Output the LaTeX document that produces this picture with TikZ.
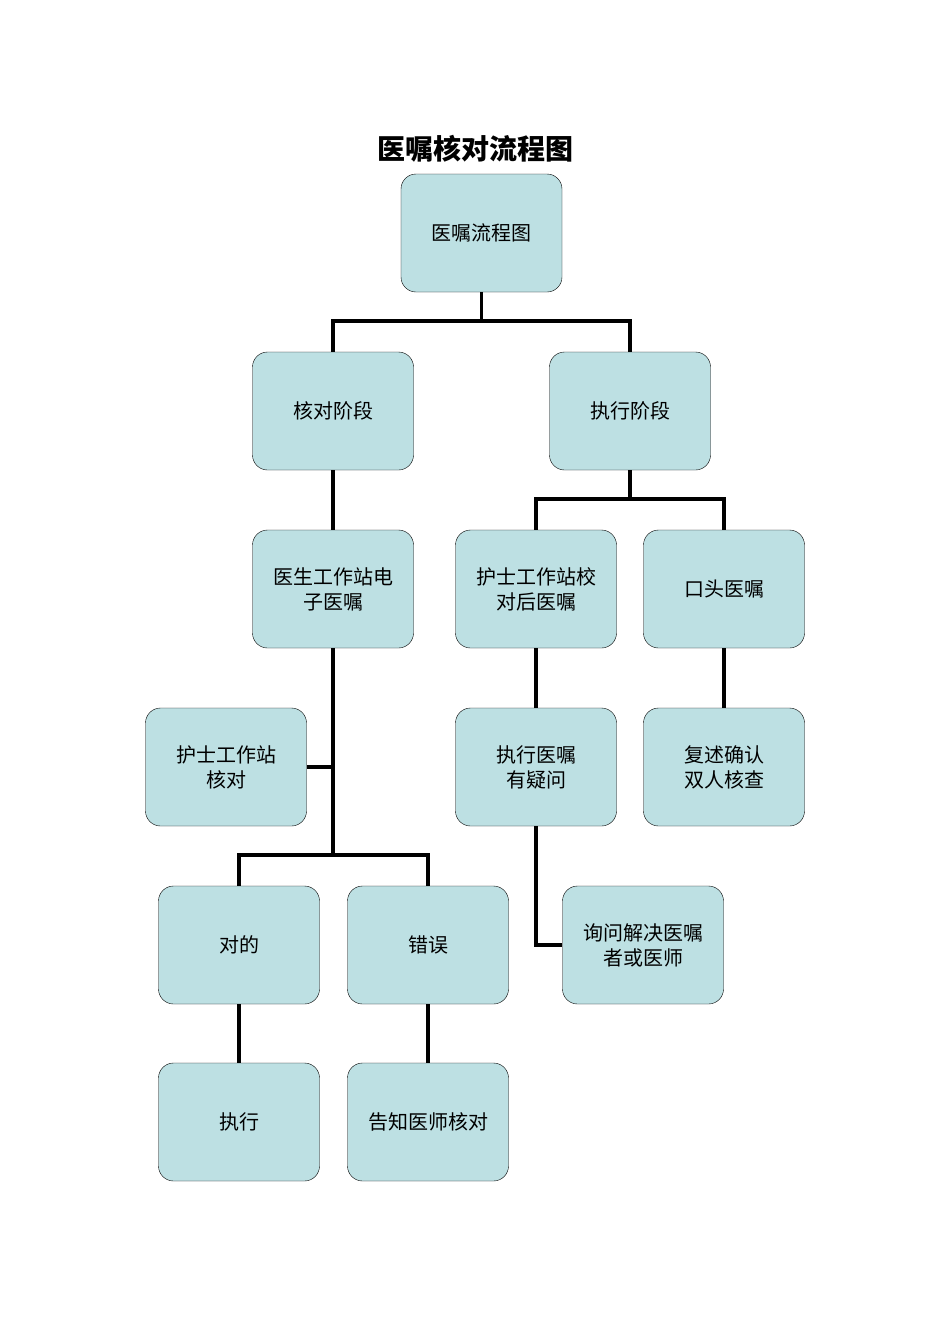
\documentclass[tikz,border=0pt]{standalone}
\usepackage{fontspec}
\setmainfont{Noto Sans CJK SC}
\begin{document}
\begin{tikzpicture}[x=1pt,y=-1pt,
  box/.style={draw=black,fill={rgb,255:red,189;green,224;blue,227},rounded corners=15pt,minimum width=161pt,minimum height=118pt,inner sep=2pt,align=center,font=\fontsize{20}{25}\selectfont,text width=145pt},
  conn/.style={line width=3.2pt,black}]
\useasboundingbox (0,0) rectangle (950,1344);
\node[font=\fontsize{28}{30}\selectfont\bfseries] (title) at (475,149) {医嘱核对流程图};
\node[box] (root) at (481.5,233) {医嘱流程图};
\node[box] (hd) at (333,411) {核对阶段};
\node[box] (zx) at (630,411) {执行阶段};
\node[box] (ys) at (333,589) {医生工作站电\\子医嘱};
\node[box] (hs) at (536,589) {护士工作站校\\对后医嘱};
\node[box] (kt) at (724,589) {口头医嘱};
\node[box] (hh) at (226,767) {护士工作站\\核对};
\node[box] (yw) at (536,767) {执行医嘱\\有疑问};
\node[box] (fs) at (724,767) {复述确认\\双人核查};
\node[box] (dd) at (239,945) {对的};
\node[box] (cw) at (428,945) {错误};
\node[box] (xw) at (643,945) {询问解决医嘱\\者或医师};
\node[box] (zh) at (239,1122) {执行};
\node[box] (gz) at (428,1122) {告知医师核对};
\draw[conn] (root.south) -- (481.5,321) coordinate (r1);
\draw[conn] (hd.north) |- (r1) -| (zx.north);
\draw[conn] (hd) -- (ys);
\draw[conn] (zx.south) -- (630,499) coordinate (z1);
\draw[conn] (hs.north) |- (z1) -| (kt.north);
\draw[conn] (hs) -- (yw);
\draw[conn] (kt) -- (fs);
\draw[conn] (ys.south) -- (333,855) coordinate (y1);
\draw[conn] (hh.east) -- (333,767);
\draw[conn] (dd.north) |- (y1) -| (cw.north);
\draw[conn] (dd) -- (zh);
\draw[conn] (cw) -- (gz);
\draw[conn] (yw.south) |- (xw.west);
\end{tikzpicture}
\end{document}
